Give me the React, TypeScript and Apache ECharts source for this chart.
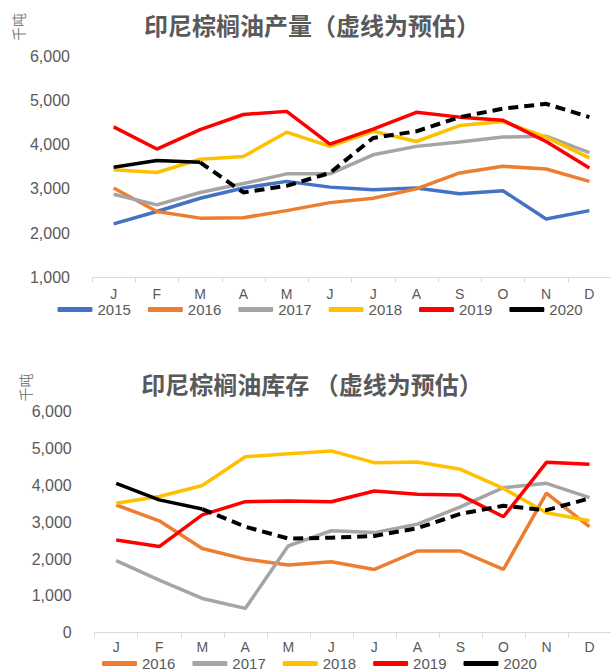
import React, { useEffect, useRef } from 'react';
import * as echarts from 'echarts';

const months = ['J', 'F', 'M', 'A', 'M', 'J', 'J', 'A', 'S', 'O', 'N', 'D'];
const prodYears = ['2015', '2016', '2017', '2018', '2019', '2020'];
const stockYears = ['2016', '2017', '2018', '2019', '2020'];
const yTicksProd = [1000, 6000, 1000];
const yTicksStock = [0, 6000, 1000];

const prod2015 = [2210, 2490, 2790, 3020, 3170, 3040, 2980, 3020, 2890, 2960, 2320, 2510];
const prod2016 = [3020, 2490, 2340, 2350, 2510, 2690, 2790, 3000, 3360, 3510, 3450, 3170];
const prod2017 = [2880, 2640, 2920, 3120, 3340, 3340, 3770, 3960, 4060, 4170, 4190, 3820];
const prod2018 = [3430, 3370, 3670, 3730, 4280, 3960, 4300, 4070, 4430, 4520, 4170, 3700];
const prod2019 = [4400, 3900, 4340, 4680, 4750, 4010, 4350, 4730, 4620, 4550, 4070, 3470];
const prod2020 = [3490, 3640, 3600, 2920, 3070, 3360, 4150, 4300, 4620, 4810, 4920, 4620];

const stock2016 = [3470, 3040, 2290, 2000, 1840, 1930, 1720, 2220, 2220, 1720, 3790, 2880];
const stock2017 = [1960, 1430, 930, 660, 2360, 2770, 2720, 2950, 3420, 3940, 4060, 3670];
const stock2018 = [3520, 3700, 4000, 4780, 4860, 4940, 4620, 4640, 4440, 3920, 3260, 3040];
const stock2019 = [2520, 2340, 3200, 3560, 3580, 3560, 3850, 3760, 3740, 3150, 4630, 4580];
const stock2020 = [4060, 3610, 3360, 2880, 2560, 2580, 2630, 2840, 3230, 3450, 3330, 3650];

const lastActualIndex2020 = 2; // J-M actual, rest estimated (dashed)

const colors: Record<string, string> = {
  '2015': '#4472C4',
  '2016': '#ED7D31',
  '2017': '#A5A5A5',
  '2018': '#FFC000',
  '2019': '#FF0000',
  '2020': '#000000',
};

const prodValues: Record<string, number[]> = {
  '2015': prod2015, '2016': prod2016, '2017': prod2017,
  '2018': prod2018, '2019': prod2019, '2020': prod2020,
};
const stockValues: Record<string, number[]> = {
  '2016': stock2016, '2017': stock2017, '2018': stock2018,
  '2019': stock2019, '2020': stock2020,
};

const TXT = '#595959';
const LW = 3.5;

function buildSeries(years: string[], values: Record<string, number[]>, gridIdx: number) {
  const out: any[] = [];
  years.forEach((y) => {
    const base = {
      type: 'line',
      xAxisIndex: gridIdx,
      yAxisIndex: gridIdx,
      symbol: 'none',
      color: colors[y],
      smooth: false,
    };
    if (y === '2020') {
      out.push({
        ...base,
        name: y,
        data: values[y].map((v, i) => (i <= lastActualIndex2020 ? v : null)),
        lineStyle: { width: LW, color: colors[y] },
      });
      out.push({
        ...base,
        name: y + '预估',
        data: values[y].map((v, i) => (i >= lastActualIndex2020 ? v : null)),
        lineStyle: { width: 4, color: colors[y], type: [10, 6] },
      });
    } else {
      out.push({
        ...base,
        name: y,
        data: values[y],
        lineStyle: { width: LW, color: colors[y] },
      });
    }
  });
  return out;
}

function xAxisCfg(gridIndex: number, margin: number) {
  return {
    type: 'category',
    gridIndex,
    data: months,
    boundaryGap: true,
    axisLine: { show: true, lineStyle: { color: '#D9D9D9', width: 1 } },
    axisTick: { show: true, length: 5, lineStyle: { color: '#D9D9D9' } },
    axisLabel: { color: TXT, fontSize: 14, margin, fontFamily: 'Liberation Sans' },
    splitLine: { show: false },
  };
}

function yAxisCfg(gridIndex: number, ticks: number[], margin: number) {
  return {
    type: 'value',
    gridIndex,
    min: ticks[0],
    max: ticks[1],
    interval: ticks[2],
    axisLine: { show: false },
    axisTick: { show: false },
    splitLine: { show: false },
    axisLabel: {
      color: TXT,
      fontSize: 16,
      margin,
      fontFamily: 'Liberation Sans',
      formatter: (v: number) => v.toLocaleString('en-US'),
    },
  };
}

function legendCfg(years: string[], left: number, top: number) {
  return {
    data: years,
    left,
    top,
    padding: 0,
    icon: 'roundRect',
    itemWidth: 35,
    itemHeight: 5,
    itemGap: 17,
    textStyle: { color: TXT, fontSize: 15, lineHeight: 15, fontFamily: 'Liberation Sans' },
  };
}

function titleText(text: string, x: number, y: number) {
  return {
    type: 'text',
    x,
    y,
    style: {
      text,
      fill: TXT,
      fontSize: 24,
      fontWeight: 'bold',
      fontFamily: 'Noto Sans CJK SC',
      align: 'center',
      verticalAlign: 'middle',
    },
  };
}

function unitText(x: number, y: number) {
  return {
    type: 'text',
    x,
    y,
    rotation: Math.PI / 2,
    style: {
      text: '千吨',
      fill: '#7F7F7F',
      fontSize: 14,
      fontFamily: 'Noto Sans CJK SC',
      align: 'center',
      verticalAlign: 'middle',
    },
  };
}

export default function App() {
  const ref = useRef<HTMLDivElement>(null);
  useEffect(() => {
    if (!ref.current) return;
    const chart = echarts.init(ref.current, null, { renderer: 'svg' });
    chart.setOption({
      animation: false,
      backgroundColor: '#ffffff',
      grid: [
        { left: 92, top: 56, width: 524.4, height: 221.5 },
        { left: 94.7, top: 411.9, width: 527, height: 220.8 },
      ],
      xAxis: [xAxisCfg(0, 9), xAxisCfg(1, 7)],
      yAxis: [yAxisCfg(0, yTicksProd, 22), yAxisCfg(1, yTicksStock, 23)],
      legend: [legendCfg(prodYears, 57.5, 302), legendCfg(stockYears, 102, 656)],
      series: [
        ...buildSeries(prodYears, prodValues, 0),
        ...buildSeries(stockYears, stockValues, 1),
      ],
      graphic: [
        titleText('印尼棕榈油产量（虚线为预估）', 312, 24),
        titleText('印尼棕榈油库存 （虚线为预估）', 312, 383),
        unitText(17.5, 27),
        unitText(24.5, 387.5),
      ],
    });
    return () => chart.dispose();
  }, []);
  return (
    <div
      ref={ref}
      style={{ position: 'absolute', left: 0, top: 0, width: 611, height: 671, overflow: 'hidden' }}
    />
  );
}
